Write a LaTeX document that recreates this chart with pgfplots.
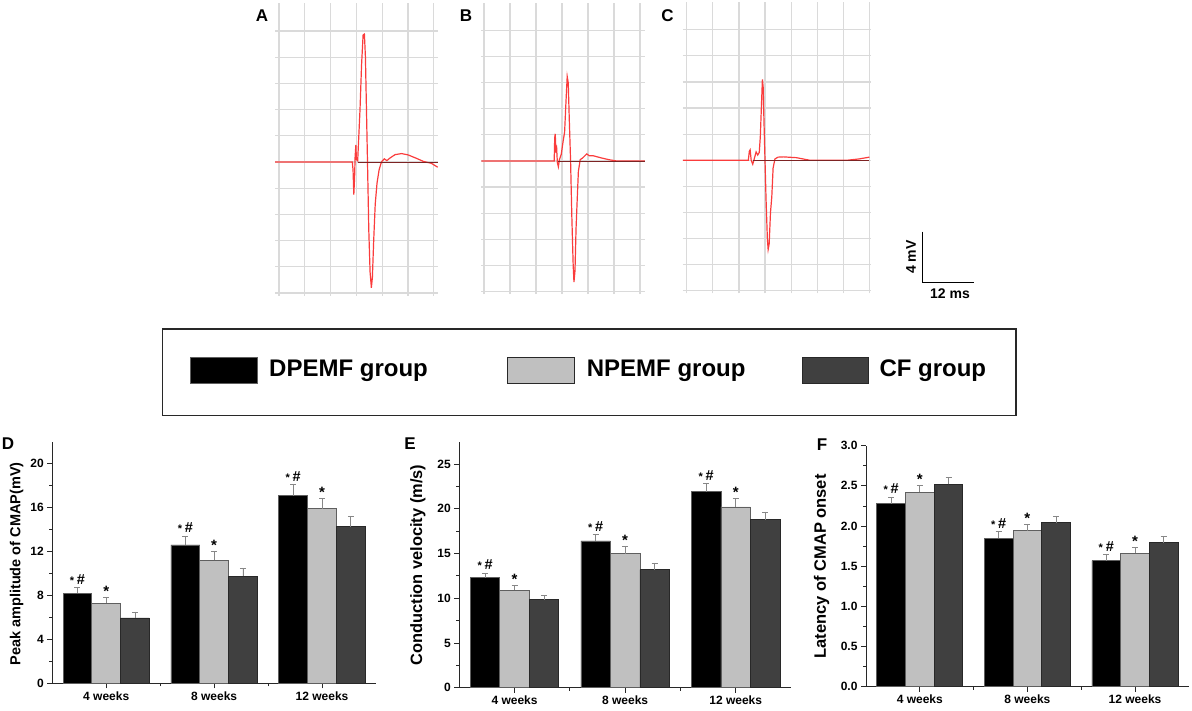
\documentclass[border=0pt]{standalone}
\usepackage{pgfplots}
\pgfplotsset{compat=1.18}
\usepackage{fontspec}
\setmainfont{Liberation Sans}
\definecolor{tracered}{RGB}{250,60,60}
\definecolor{basered}{RGB}{125,35,35}
\definecolor{gridc}{RGB}{218,218,218}
\definecolor{lgray}{RGB}{192,192,192}
\definecolor{dgray}{RGB}{64,64,64}
\definecolor{edgec}{RGB}{95,95,95}
\definecolor{errc}{RGB}{135,135,135}
\definecolor{axc}{RGB}{40,40,40}
\newcommand{\fs}[1]{\fontsize{#1}{#1}\selectfont}
\newcommand{\sh}{{\fs{11}*}\ {\fs{14.5}\#}}
\newcommand{\st}{{\fs{15}*}}
\tikzset{ann/.style={anchor=south, inner sep=1pt, font=\bfseries},
  annh/.style={anchor=south, inner sep=1pt, font=\bfseries, yshift=2pt}}
\pgfplotsset{
  trace/.style={scale only axis, anchor=south west, axis line style={draw=none},
    tick style={draw=none}, xticklabels={}, yticklabels={}, grid=major,
    grid style={gridc, line width=1.2pt}, ytick={-5,...,5}, ymin=-5.1, ymax=6.06, clip=false},
  bars/.style={scale only axis, anchor=south west, axis x line*=bottom, axis y line*=left,
    axis line style={axc, line width=0.8pt}, xmin=0.5, xmax=3.5, ymin=0,
    ybar=0pt, bar width=#1,
    xtick={1,2,3}, xticklabels={4 weeks,8 weeks,12 weeks}, minor xtick={1.5,2.5},
    minor y tick num=1, tick align=outside, major tick length=5pt, minor tick length=3pt,
    tick style={axc, line width=0.8pt}, tick label style={font=\fs{12}\bfseries},
    /pgf/number format/assume math mode=true, clip=false},
  errs/.style={error bars/.cd, y dir=plus, y explicit, error bar style={errc, line width=0.8pt},
    error mark options={rotate=90, errc, mark size=3pt, line width=0.8pt}},
  bk/.style={fill=black, draw=edgec, line width=0.8pt, errs},
  lg/.style={fill=lgray, draw=edgec, line width=0.8pt, errs},
  dg/.style={fill=dgray, draw=axc, line width=0.8pt, errs}
}
\begin{document}
\begin{tikzpicture}[x=1pt,y=1pt]
\useasboundingbox (0,0) rectangle (1192,711);
\coordinate (pA) at (275.1,415.4);
\coordinate (pB) at (481.4,416.9);
\coordinate (pC) at (682.8,417.6);
\coordinate (pD) at (52.3,27.7);
\coordinate (pE) at (459.3,23.3);
\coordinate (pF) at (866,24.3);

% ---------- Trace A ----------
\begin{axis}[trace, at={(pA)}, width=162.6pt, height=292.4pt,
  xmin=-0.15, xmax=6.15, xtick={0,...,6}]
\addplot[tracered, line width=1.2pt] coordinates {
(-0.15,0) (2.84,0) (2.87,-0.3) (2.90,-1.25) (2.93,-0.6) (2.95,0.2) (2.98,0.65) (3.00,0.1)
(3.05,0.05) (3.08,0.7) (3.14,2.0) (3.20,3.7) (3.26,4.85) (3.31,4.88) (3.35,4.0) (3.39,2.0)
(3.43,0) (3.48,-2.6) (3.53,-4.2) (3.58,-4.8) (3.62,-4.4) (3.67,-3.0) (3.73,-1.6) (3.80,-0.8)
(3.88,-0.3) (3.97,0) (4.08,0.12) (4.18,0.05) (4.30,0.15) (4.50,0.28) (4.75,0.32) (5.0,0.27)
(5.3,0.15) (5.6,0.02) (5.9,-0.05) (6.15,-0.2)};
\addplot[basered, line width=0.9pt] coordinates {(3.05,0) (6.15,0)};
\end{axis}

% ---------- Trace B ----------
\begin{axis}[trace, at={(pB)}, width=163.8pt, height=291.3pt,
  xmin=-0.1, xmax=6.2, xtick={0,...,6}]
\addplot[tracered, line width=1.2pt] coordinates {
(-0.1,0) (2.70,0) (2.72,0.9) (2.74,1.04) (2.77,0.3) (2.79,0.6) (2.82,-0.05) (2.86,-0.22)
(2.90,0.05) (2.97,0.25) (3.05,0.8) (3.10,1.1) (3.15,2.2) (3.20,3.24) (3.24,3.0) (3.28,1.6)
(3.33,0) (3.38,-2.2) (3.43,-4.0) (3.46,-4.64) (3.50,-4.2) (3.54,-2.6) (3.58,-1.6) (3.63,-0.4)
(3.70,0.05) (3.80,0.12) (3.95,0.27) (4.05,0.2) (4.2,0.2) (4.5,0.12) (4.8,0.05) (5.1,0) (6.19,0)};
\addplot[basered, line width=0.9pt] coordinates {(2.86,0) (6.19,0)};
\end{axis}

% ---------- Trace C ----------
\begin{axis}[trace, at={(pC)}, width=187.9pt, height=291.3pt,
  xmin=-0.15, xmax=7.05, xtick={0,...,7}]
\addplot[tracered, line width=1.2pt] coordinates {
(-0.15,0) (2.36,0) (2.40,0.35) (2.43,0.4) (2.47,0) (2.53,-0.15) (2.60,0.1) (2.66,0.32)
(2.72,0.2) (2.78,0.3) (2.82,0.9) (2.86,2.0) (2.90,3.1) (2.93,2.8) (2.96,1.5) (3.0,0)
(3.04,-1.5) (3.09,-3.0) (3.12,-3.42) (3.16,-3.2) (3.21,-2.0) (3.26,-1.4) (3.31,-0.3)
(3.38,0.05) (3.50,0.12) (3.70,0.13) (4.2,0.1) (4.72,0) (6.13,0) (6.6,0.05) (7.0,0.12)};
\addplot[basered, line width=0.9pt] coordinates {(2.55,0) (7.0,0)};
\end{axis}

% panel letters
\node[font=\fs{17}\bfseries] at (262,695) {A};
\node[font=\fs{17}\bfseries] at (466,695) {B};
\node[font=\fs{17}\bfseries] at (667.5,695) {C};

% scale bar
\draw[line width=1.5pt, black] (922.7,479.3) -- (922.7,428.7) -- (974,428.7);
\node[rotate=90, font=\fs{14}\bfseries] at (911,454) {4 mV};
\node[font=\fs{14}\bfseries] at (950,417) {12 ms};

% legend box
\draw[line width=1.3pt, axc] (162.7,382) rectangle (1016,295.5);
\draw[fill=black, draw=edgec, line width=1pt] (190,353.7) rectangle (257.3,327.7);
\draw[fill=lgray, draw=axc, line width=1pt] (507.3,353.7) rectangle (574.3,327.7);
\draw[fill=dgray, draw=axc, line width=1pt] (802.3,353.7) rectangle (868.3,327.7);
\node[anchor=base west, inner sep=0pt, font=\fs{24}\bfseries] at (269,334) {DPEMF group};
\node[anchor=base west, inner sep=0pt, font=\fs{24}\bfseries] at (586.7,334) {NPEMF group};
\node[anchor=base west, inner sep=0pt, font=\fs{24}\bfseries] at (879.3,334) {CF group};

% ---------- D ----------
\begin{axis}[bars=28.8pt, at={(pD)}, width=323.7pt, height=241.6pt, ymax=22, ytick={0,4,8,12,16,20}]
\addplot[bk] coordinates {(1,8.2) +- (0,0.55) (2,12.6) +- (0,0.8) (3,17.1) +- (0,1.0)};
\addplot[lg] coordinates {(1,7.3) +- (0,0.5) (2,11.2) +- (0,0.8) (3,15.9) +- (0,0.95)};
\addplot[dg] coordinates {(1,5.95) +- (0,0.55) (2,9.75) +- (0,0.75) (3,14.25) +- (0,0.95)};
\node[annh] at (axis cs:0.733,8.75) {\sh};
\node[annh] at (axis cs:1.733,13.4) {\sh};
\node[annh] at (axis cs:2.733,18.1) {\sh};
\node[ann] at (axis cs:1,7.8) {\st};
\node[ann] at (axis cs:2,12.0) {\st};
\node[ann] at (axis cs:3,16.85) {\st};
\end{axis}
\node[font=\fs{17}\bfseries] at (8,267) {D};
\node[rotate=90, font=\fs{14.5}\bfseries] at (16.7,147) {Peak amplitude of CMAP(mV)};

% ---------- E ----------
\begin{axis}[bars=29.5pt, at={(pE)}, width=331.7pt, height=246pt, ymax=27.5, ytick={0,5,10,15,20,25}]
\addplot[bk] coordinates {(1,12.3) +- (0,0.5) (2,16.4) +- (0,0.75) (3,21.9) +- (0,0.95)};
\addplot[lg] coordinates {(1,10.9) +- (0,0.5) (2,15.0) +- (0,0.75) (3,20.2) +- (0,0.95)};
\addplot[dg] coordinates {(1,9.85) +- (0,0.5) (2,13.2) +- (0,0.75) (3,18.8) +- (0,0.85)};
\node[annh] at (axis cs:0.733,12.8) {\sh};
\node[annh] at (axis cs:1.733,17.15) {\sh};
\node[annh] at (axis cs:2.733,22.85) {\sh};
\node[ann] at (axis cs:1,11.4) {\st};
\node[ann] at (axis cs:2,15.75) {\st};
\node[ann] at (axis cs:3,21.15) {\st};
\end{axis}
\node[font=\fs{17}\bfseries] at (410,267) {E};
\node[rotate=90, font=\fs{16.4}\bfseries] at (418,146) {Conduction velocity (m/s)};

% ---------- F ----------
\begin{axis}[bars=28.7pt, at={(pF)}, width=322.8pt, height=241pt, ymax=3.0,
  ytick={0,0.5,1,1.5,2,2.5,3},
  yticklabel style={/pgf/number format/.cd, fixed, fixed zerofill, precision=1}]
\addplot[bk] coordinates {(1,2.28) +- (0,0.08) (2,1.85) +- (0,0.08) (3,1.57) +- (0,0.075)};
\addplot[lg] coordinates {(1,2.42) +- (0,0.08) (2,1.94) +- (0,0.08) (3,1.66) +- (0,0.075)};
\addplot[dg] coordinates {(1,2.52) +- (0,0.09) (2,2.04) +- (0,0.08) (3,1.79) +- (0,0.085)};
\node[annh] at (axis cs:0.733,2.36) {\sh};
\node[annh] at (axis cs:1.733,1.93) {\sh};
\node[annh] at (axis cs:2.733,1.645) {\sh};
\node[ann] at (axis cs:1,2.50) {\st};
\node[ann] at (axis cs:2,2.02) {\st};
\node[ann] at (axis cs:3,1.735) {\st};
\end{axis}
\node[font=\fs{17}\bfseries] at (822,266) {F};
\node[rotate=90, font=\fs{16.5}\bfseries] at (821.7,144.5) {Latency of CMAP onset};
\end{tikzpicture}
\end{document}
